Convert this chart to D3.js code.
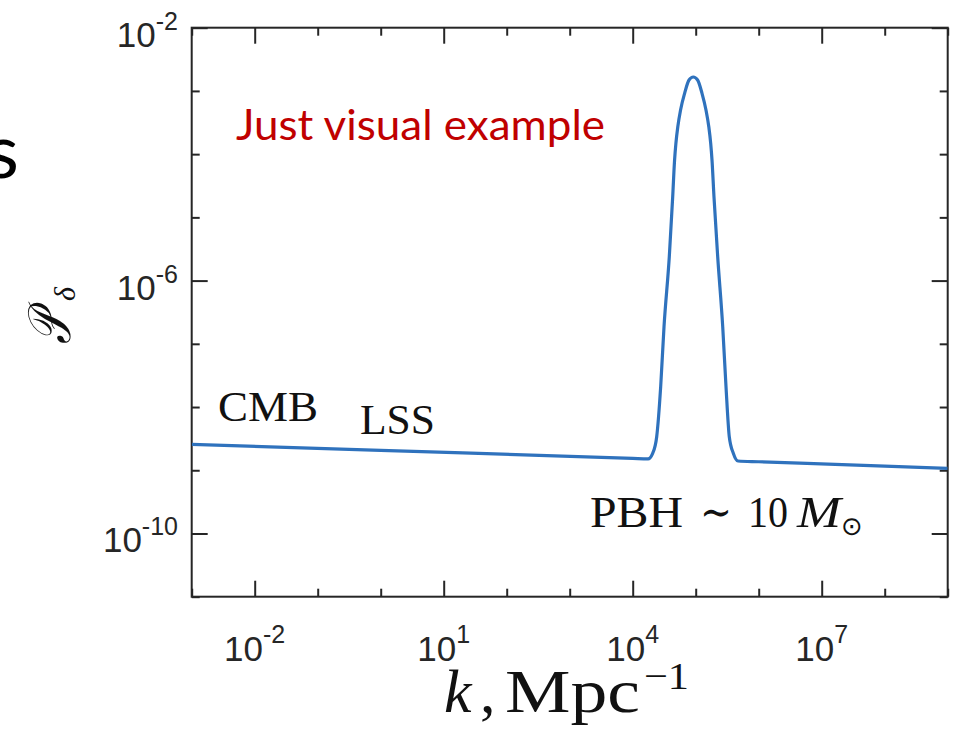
<!DOCTYPE html>
<html>
<head>
<meta charset="utf-8">
<script src="https://cdn.jsdelivr.net/npm/d3@7"></script>
<style>
  html, body { margin: 0; padding: 0; background: #ffffff; }
  svg { display: block; }
</style>
</head>
<body>
<svg id="chart" width="958" height="731"></svg>
<script>
// Wavenumber k [Mpc^-1] and the curvature power spectrum P_delta at those k
const kValues = [
  1e-3, 1, 1e4, 1.75e4, 2.075e4, 2.404e4, 2.78e4, 3.141e4, 3.811e4, 4.315e4,
  4.62e4, 4.85e4, 5.20e4, 5.75e4, 6.67e4, 7.83e4, 9.16e4, 1.072e5, 1.259e5,
  1.456e5, 1.614e5, 1.73e5, 1.815e5, 1.95e5, 2.234e5, 2.685e5, 3.027e5, 3.412e5,
  3.954e5, 4.69e5, 1e6, 1e8, 1e9
];
const powerValues = [
  2.57e-9, 2.065e-9, 1.542e-9, 1.514e-9, 1.854e-9, 3.396e-9, 2.094e-8, 1.862e-7, 2.388e-6, 2.123e-5,
  8.07e-5, 1.483e-4, 2.716e-4, 4.99e-4, 9.16e-4, 1.49e-3, 1.66e-3, 1.49e-3, 9.16e-4,
  4.99e-4, 2.716e-4, 1.483e-4, 8.07e-5, 2.123e-5, 2.388e-6, 1.862e-7, 2.094e-8, 3.396e-9,
  1.854e-9, 1.4e-9, 1.364e-9, 1.164e-9, 1.074e-9
];

// Axis ranges and labelled decades
const xDomain = [1e-3, 1e9];
const yDomain = [1e-11, 1e-2];
const xMajorExps = [-2, 1, 4, 7];
const yMajorExps = [-2, -6, -10];

// Annotations
const regionLabels = ["CMB", "LSS"];
const noteText = "Just visual example";

(function draw() {
  const svg = d3.select("#chart");
  const plotLeft = 191.7, plotRight = 947.7, plotTop = 27.7, plotBottom = 596.7;
  const axisColor = "#262626";
  const ink = "#111111";

  const x = d3.scaleLog().domain(xDomain).range([plotLeft, plotRight]);
  const y = d3.scaleLog().domain(yDomain).range([plotBottom, plotTop]);

  const decadesX = d3.range(Math.log10(xDomain[0]), Math.log10(xDomain[1]) + 1).map(e => Math.pow(10, e));
  const decadesY = d3.range(Math.log10(yDomain[0]), Math.log10(yDomain[1]) + 1).map(e => Math.pow(10, e));
  const isMajorX = v => xMajorExps.includes(Math.round(Math.log10(v)));
  const isMajorY = v => yMajorExps.includes(Math.round(Math.log10(v)));

  // Inward-pointing ticks on all four sides
  function tickGroup(axisFn, values, size, transform) {
    const g = svg.append("g")
      .attr("transform", transform)
      .call(axisFn.tickValues(values).tickSizeInner(size).tickSizeOuter(0).tickFormat(""));
    g.select(".domain").remove();
    g.selectAll(".tick line").attr("stroke", axisColor).attr("stroke-width", 2);
    return g;
  }
  const xMinor = decadesX.filter(v => !isMajorX(v));
  const xMajor = decadesX.filter(isMajorX);
  const yMinor = decadesY.filter(v => !isMajorY(v));
  const yMajor = decadesY.filter(isMajorY);

  tickGroup(d3.axisBottom(x), xMinor, -8, `translate(0,${plotBottom})`);
  tickGroup(d3.axisBottom(x), xMajor, -16, `translate(0,${plotBottom})`);
  tickGroup(d3.axisTop(x), xMinor, -8, `translate(0,${plotTop})`);
  tickGroup(d3.axisTop(x), xMajor, -16, `translate(0,${plotTop})`);
  tickGroup(d3.axisLeft(y), yMinor, -8, `translate(${plotLeft},0)`);
  tickGroup(d3.axisLeft(y), yMajor, -16, `translate(${plotLeft},0)`);
  tickGroup(d3.axisRight(y), yMinor, -8, `translate(${plotRight},0)`);
  tickGroup(d3.axisRight(y), yMajor, -16, `translate(${plotRight},0)`);

  // Frame
  svg.append("rect")
    .attr("x", plotLeft).attr("y", plotTop)
    .attr("width", plotRight - plotLeft).attr("height", plotBottom - plotTop)
    .attr("fill", "none").attr("stroke", axisColor).attr("stroke-width", 2);

  // Tick labels as 10^n
  const tickFont = "'Liberation Sans', Arial, Helvetica, sans-serif";
  function powerLabel(gx, gy, exp, anchor, supDy) {
    const t = svg.append("text")
      .attr("x", gx).attr("y", gy)
      .attr("text-anchor", anchor)
      .attr("font-family", tickFont)
      .attr("fill", axisColor)
      .attr("font-size", 35);
    t.append("tspan").text("10");
    t.append("tspan").attr("font-size", 25).attr("dy", supDy).text(String(exp));
  }
  xMajorExps.forEach(e => powerLabel(x(Math.pow(10, e)), 661, e, "middle", -18));
  yMajorExps.forEach(e => powerLabel(178, y(Math.pow(10, e)) + 19, e, "end", -17));

  // Axis titles
  const serif = "'Liberation Serif', 'Times New Roman', 'DejaVu Serif', serif";
  const xTitle = svg.append("g")
    .attr("font-family", serif).attr("fill", ink);
  xTitle.append("text").attr("x", 444).attr("y", 712)
    .attr("font-size", 62).attr("font-style", "italic").text("k");
  xTitle.append("text").attr("x", 480).attr("y", 712)
    .attr("font-size", 62).text(",");
  xTitle.append("text").attr("x", 505).attr("y", 712)
    .attr("font-size", 62)
    .attr("textLength", 135).attr("lengthAdjust", "spacingAndGlyphs").text("Mpc");
  xTitle.append("text").attr("x", 644).attr("y", 689)
    .attr("font-size", 38)
    .attr("textLength", 45).attr("lengthAdjust", "spacingAndGlyphs").text("\u22121");

  svg.append("text")
    .attr("transform", "translate(70,344) rotate(-90) scale(0.72,1)")
    .attr("font-family", serif).attr("font-size", 60).attr("fill", ink)
    .attr("font-style", "italic")
    .text("\u{1D4AB}");
  svg.append("text")
    .attr("transform", "translate(75,301) rotate(-90)")
    .attr("font-family", serif).attr("font-size", 30).attr("fill", ink)
    .attr("font-style", "italic")
    .text("\u03B4");

  // Spectrum curve
  const clipId = "plot-clip";
  svg.append("clipPath").attr("id", clipId)
    .append("rect").attr("x", plotLeft).attr("y", plotTop)
    .attr("width", plotRight - plotLeft).attr("height", plotBottom - plotTop);

  const points = kValues.map((k, i) => ({ k, p: powerValues[i] }));
  const line = d3.line()
    .x(d => x(d.k))
    .y(d => y(d.p))
    .curve(d3.curveMonotoneX);

  svg.append("path")
    .datum(points)
    .attr("clip-path", `url(#${clipId})`)
    .attr("d", line)
    .attr("fill", "none")
    .attr("stroke", "#2f72bd")
    .attr("stroke-width", 3.2)
    .attr("stroke-linejoin", "round");

  // Region annotations
  svg.append("text")
    .attr("x", 218).attr("y", 421)
    .attr("font-family", serif).attr("font-size", 42).attr("fill", ink)
    .attr("textLength", 100).attr("lengthAdjust", "spacingAndGlyphs")
    .text(regionLabels[0]);
  svg.append("text")
    .attr("x", 360).attr("y", 434)
    .attr("font-family", serif).attr("font-size", 42).attr("fill", ink)
    .attr("textLength", 75).attr("lengthAdjust", "spacingAndGlyphs")
    .text(regionLabels[1]);

  const pbh = svg.append("g").attr("font-family", serif).attr("fill", ink);
  pbh.append("text").attr("x", 590).attr("y", 527).attr("font-size", 44)
    .attr("textLength", 93).attr("lengthAdjust", "spacingAndGlyphs").text("PBH");
  pbh.append("text").attr("x", 700).attr("y", 527).attr("font-size", 44)
    .attr("textLength", 32).attr("lengthAdjust", "spacingAndGlyphs").text("\u223C");
  pbh.append("text").attr("x", 748).attr("y", 527).attr("font-size", 44)
    .attr("textLength", 40).attr("lengthAdjust", "spacingAndGlyphs").text("10");
  pbh.append("text").attr("x", 797).attr("y", 527).attr("font-size", 44)
    .attr("font-style", "italic")
    .attr("textLength", 44).attr("lengthAdjust", "spacingAndGlyphs").text("M");
  pbh.append("text").attr("x", 841).attr("y", 535).attr("font-size", 26)
    .attr("font-family", "'DejaVu Sans', sans-serif").text("\u2299");

  svg.append("text")
    .attr("x", 236).attr("y", 140)
    .attr("font-family", "Lato, 'Open Sans', sans-serif").attr("font-size", 42)
    .attr("fill", "#c00000")
    .attr("textLength", 369).attr("lengthAdjust", "spacingAndGlyphs")
    .text(noteText);

  // Edge of surrounding slide text
  svg.append("text")
    .attr("x", 19).attr("y", 178)
    .attr("text-anchor", "end")
    .attr("font-family", "Lato, 'Open Sans', sans-serif").attr("font-size", 76)
    .attr("fill", "#000")
    .text("s");
})();
</script>
</body>
</html>
